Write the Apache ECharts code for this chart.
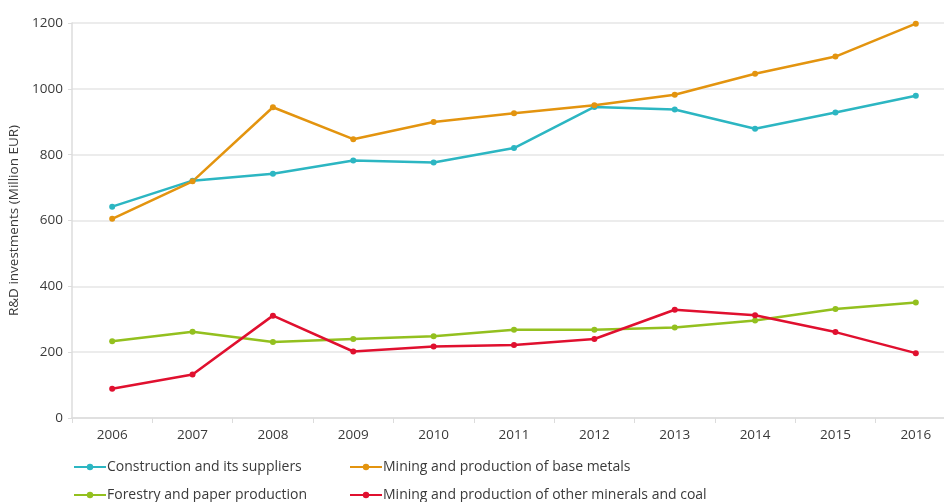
<!DOCTYPE html>
<html>
<head>
<meta charset="utf-8">
<script src="https://cdn.jsdelivr.net/npm/echarts@6/dist/echarts.min.js"></script>
<style>
  html, body { margin: 0; padding: 0; background: #fff; }
  #chart { width: 944px; height: 502px; }
</style>
</head>
<body>
<div id="chart"></div>
<script>
  const years = ['2006', '2007', '2008', '2009', '2010', '2011', '2012', '2013', '2014', '2015', '2016']
  const construction = [642, 721, 742, 782, 776, 820, 945, 937, 879, 928, 979]
  const baseMetals = [605, 719, 944, 847, 899, 926, 950, 982, 1046, 1098, 1198]
  const forestry = [233, 262, 231, 240, 248, 268, 268, 275, 296, 331, 351]
  const otherMinerals = [89, 132, 311, 202, 217, 222, 240, 329, 312, 261, 197]

  const names = [
    'Construction and its suppliers',
    'Mining and production of base metals',
    'Forestry and paper production',
    'Mining and production of other minerals and coal',
  ]
  const colors = ['#2cb6c2', '#e3940f', '#93c01f', '#e0102f']

  const font = 'Open Sans, Noto Sans, sans-serif'
  const chart = echarts.init(document.getElementById('chart'))

  function line (name, data, color) {
    return {
      name: name,
      type: 'line',
      data: data,
      symbol: 'circle',
      symbolSize: 6,
      color: color,
      lineStyle: { width: 2.5, color: color },
      itemStyle: { color: color },
      animation: false,
    }
  }

  // one legend per entry so the 2x2 layout is fixed
  function legend (name, left, top) {
    return {
      data: [name],
      left: left,
      top: top,
      padding: 0,
      itemWidth: 32,
      itemHeight: 8,
      itemGap: 0,
      textStyle: { fontFamily: font, fontSize: 14, color: '#3a3a3a', padding: [0, 0, 0, -4] },
    }
  }

  const option = {
    backgroundColor: '#fff',
    animation: false,
    grid: { left: 72, width: 884, top: 23, height: 395, outerBoundsMode: 'none' },
    legend: [
      legend(names[0], 73, 460),
      legend(names[2], 73, 488),
      legend(names[1], 349, 460),
      legend(names[3], 349, 488),
    ],
    xAxis: {
      type: 'category',
      data: years,
      boundaryGap: true,
      axisLine: { lineStyle: { color: '#dcdcdc', width: 1.5 } },
      axisTick: { show: true, length: 5, lineStyle: { color: '#dcdcdc' } },
      axisLabel: { fontFamily: font, fontSize: 13.5, color: '#3a3a3a', margin: 10 },
    },
    yAxis: {
      type: 'value',
      min: 0,
      max: 1200,
      interval: 200,
      name: 'R&D investments (Million EUR)',
      nameLocation: 'middle',
      nameGap: 45,
      nameTextStyle: { fontFamily: font, fontSize: 13.5, color: '#3a3a3a' },
      axisLine: { show: true, lineStyle: { color: '#dcdcdc', width: 1.5 } },
      axisTick: { show: true, length: 4, lineStyle: { color: '#dcdcdc' } },
      axisLabel: {
        fontFamily: font,
        fontSize: 13.5,
        color: '#3a3a3a',
        margin: 9,
        formatter: v => String(v),
      },
      splitLine: { lineStyle: { color: '#e6e6e6', width: 1.5 } },
    },
    series: [
      line(names[0], construction, colors[0]),
      line(names[1], baseMetals, colors[1]),
      line(names[2], forestry, colors[2]),
      line(names[3], otherMinerals, colors[3]),
    ],
  }
  chart.setOption(option)
</script>
</body>
</html>
